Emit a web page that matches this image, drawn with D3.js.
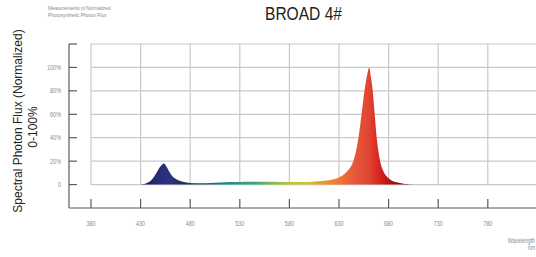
<!DOCTYPE html>
<html>
<head>
<meta charset="utf-8">
<script src="https://cdn.jsdelivr.net/npm/d3@7"></script>
<style>
  html, body { margin: 0; padding: 0; background: #fff; overflow: hidden; }
  svg { display: block; }
</style>
</head>
<body>
<svg id="chart" width="536" height="257"></svg>
<script>
// spectrum (nm, % of peak)
const wavelengths = [425, 432, 437, 441, 445, 448, 451, 453.5, 456, 459, 462, 466, 470, 475, 480, 490, 500, 510, 520, 530, 540, 550, 560, 570, 580, 590, 600, 610, 620, 630, 636, 640, 644, 647, 650, 653, 656, 658, 660.5, 662, 664, 666, 668, 670, 672, 675, 678, 682, 688, 695, 705];
const flux = [0, 0.3, 1.5, 4, 8.5, 13, 16.5, 18, 15.5, 11, 7, 4.5, 3, 2, 1.4, 1.2, 1.4, 1.8, 2.1, 2.3, 2.4, 2.4, 2.4, 2.3, 2.3, 2.2, 2.3, 2.8, 3.6, 6, 9.5, 13, 19, 28, 42, 62, 82, 92, 100, 93, 80, 60, 40, 27, 18, 11, 7, 4, 2, 0.8, 0];

const xTicks = [380, 430, 480, 530, 580, 630, 680, 730, 780];
const yTicks = [0, 20, 40, 60, 80, 100];
const yTickLabels = ["0", "20%", "40%", "60%", "80%", "100%"];

// colour along the wavelength axis
const stopNm = [430, 445, 460, 475, 490, 505, 525, 545, 565, 585, 600, 615, 630, 645, 660, 672, 685, 700];
const stopColor = ["#141645", "#262a72", "#2b3380", "#1f2f5a", "#1d4a5c", "#1a7474", "#1f9a88", "#3aa67a", "#8cbc40", "#c6c82c", "#d8c02c", "#f0902e", "#f07636", "#e85a3c", "#e04632", "#d4201c", "#a00e16", "#600a10"];

const svg = d3.select("#chart");
const font = "'Liberation Sans', Arial, sans-serif";

const x = d3.scaleLinear().domain([380, 830]).range([91, 537.4]);
const y = d3.scaleLinear().domain([-20, 120]).range([208, 44]);

const defs = svg.append("defs");
const grad = defs.append("linearGradient")
    .attr("id", "spec")
    .attr("gradientUnits", "userSpaceOnUse")
    .attr("x1", x(380)).attr("x2", x(830))
    .attr("y1", 0).attr("y2", 0);
grad.selectAll("stop")
  .data(stopNm)
  .join("stop")
    .attr("offset", d => (d - 380) / 450)
    .attr("stop-color", (d, i) => stopColor[i]);

// grid
const grid = svg.append("g")
    .attr("stroke", "#c9c9c9")
    .attr("stroke-width", 1.2);
grid.selectAll("line.h")
  .data(yTicks.concat([120]))
  .join("line")
    .attr("class", "h")
    .attr("x1", x(380)).attr("x2", x(830))
    .attr("y1", d => y(d)).attr("y2", d => y(d));
grid.selectAll("line.v")
  .data(xTicks.concat([830]))
  .join("line")
    .attr("class", "v")
    .attr("x1", d => x(d)).attr("x2", d => x(d))
    .attr("y1", y(120)).attr("y2", y(0));

// spectrum
const area = d3.area()
    .x((d, i) => x(wavelengths[i]))
    .y0(y(0))
    .y1(d => y(d))
    .curve(d3.curveMonotoneX);

svg.append("path")
    .datum(flux)
    .attr("fill", "url(#spec)")
    .attr("d", area);

// axes
const axisColor = "#5a5a5a";
svg.append("line")
    .attr("x1", 69).attr("x2", 69)
    .attr("y1", y(120)).attr("y2", y(-20))
    .attr("stroke", axisColor).attr("stroke-width", 1.2);
svg.append("line")
    .attr("x1", 69).attr("x2", 536)
    .attr("y1", y(-20)).attr("y2", y(-20))
    .attr("stroke", axisColor).attr("stroke-width", 1.2);

svg.append("g")
  .selectAll("line")
  .data(yTicks.concat([120]))
  .join("line")
    .attr("x1", 69).attr("x2", 77)
    .attr("y1", d => y(d)).attr("y2", d => y(d))
    .attr("stroke", axisColor).attr("stroke-width", 1.2);

svg.append("g")
  .selectAll("line")
  .data(xTicks)
  .join("line")
    .attr("x1", d => x(d)).attr("x2", d => x(d))
    .attr("y1", y(-20)).attr("y2", y(-20) - 9)
    .attr("stroke", axisColor).attr("stroke-width", 1.2);

// tick labels (condensed look via horizontal squeeze)
svg.append("g")
  .selectAll("text")
  .data(yTicks)
  .join("text")
    .attr("transform", d => `translate(61,${y(d) + 2.4}) scale(0.78,1)`)
    .attr("text-anchor", "end")
    .style("font-family", font)
    .style("font-size", "7px")
    .style("fill", "#8a8a8a")
    .text((d, i) => yTickLabels[i]);

svg.append("g")
  .selectAll("text")
  .data(xTicks)
  .join("text")
    .attr("transform", d => `translate(${x(d)},225.5) scale(0.78,1)`)
    .attr("text-anchor", "middle")
    .style("font-family", font)
    .style("font-size", "7px")
    .style("fill", "#8a8a8a")
    .text(d => d);

// titles
svg.append("text")
    .attr("x", 265)
    .attr("y", 20)
    .attr("textLength", 77)
    .attr("lengthAdjust", "spacingAndGlyphs")
    .style("font-family", font)
    .style("font-size", "18px")
    .style("fill", "#222")
    .text("BROAD 4#");

const sub = svg.append("text")
    .attr("transform", "translate(48,0) scale(0.8,1)")
    .style("font-family", font)
    .style("font-size", "6px")
    .style("fill", "#888");
sub.append("tspan").attr("x", 0).attr("y", 10).text("Measurements of Normalized");
sub.append("tspan").attr("x", 0).attr("y", 17).text("Photosynthetic Photon Flux");

svg.append("text")
    .attr("transform", "translate(22,121) rotate(-90)")
    .attr("text-anchor", "middle")
    .style("font-family", font)
    .style("font-size", "12px")
    .style("fill", "#222")
    .text("Spectral Photon Flux (Normalized)");
svg.append("text")
    .attr("transform", "translate(37,127) rotate(-90)")
    .attr("text-anchor", "middle")
    .style("font-family", font)
    .style("font-size", "12px")
    .style("fill", "#222")
    .text("0-100%");

const wl = svg.append("text")
    .attr("transform", "translate(535,0) scale(0.8,1)")
    .attr("text-anchor", "end")
    .style("font-family", font)
    .style("font-size", "6.5px")
    .style("fill", "#8a8a8a");
wl.append("tspan").attr("x", 0).attr("y", 243).text("Wavelength");
wl.append("tspan").attr("x", 0).attr("y", 250).text("nm");
</script>
</body>
</html>
